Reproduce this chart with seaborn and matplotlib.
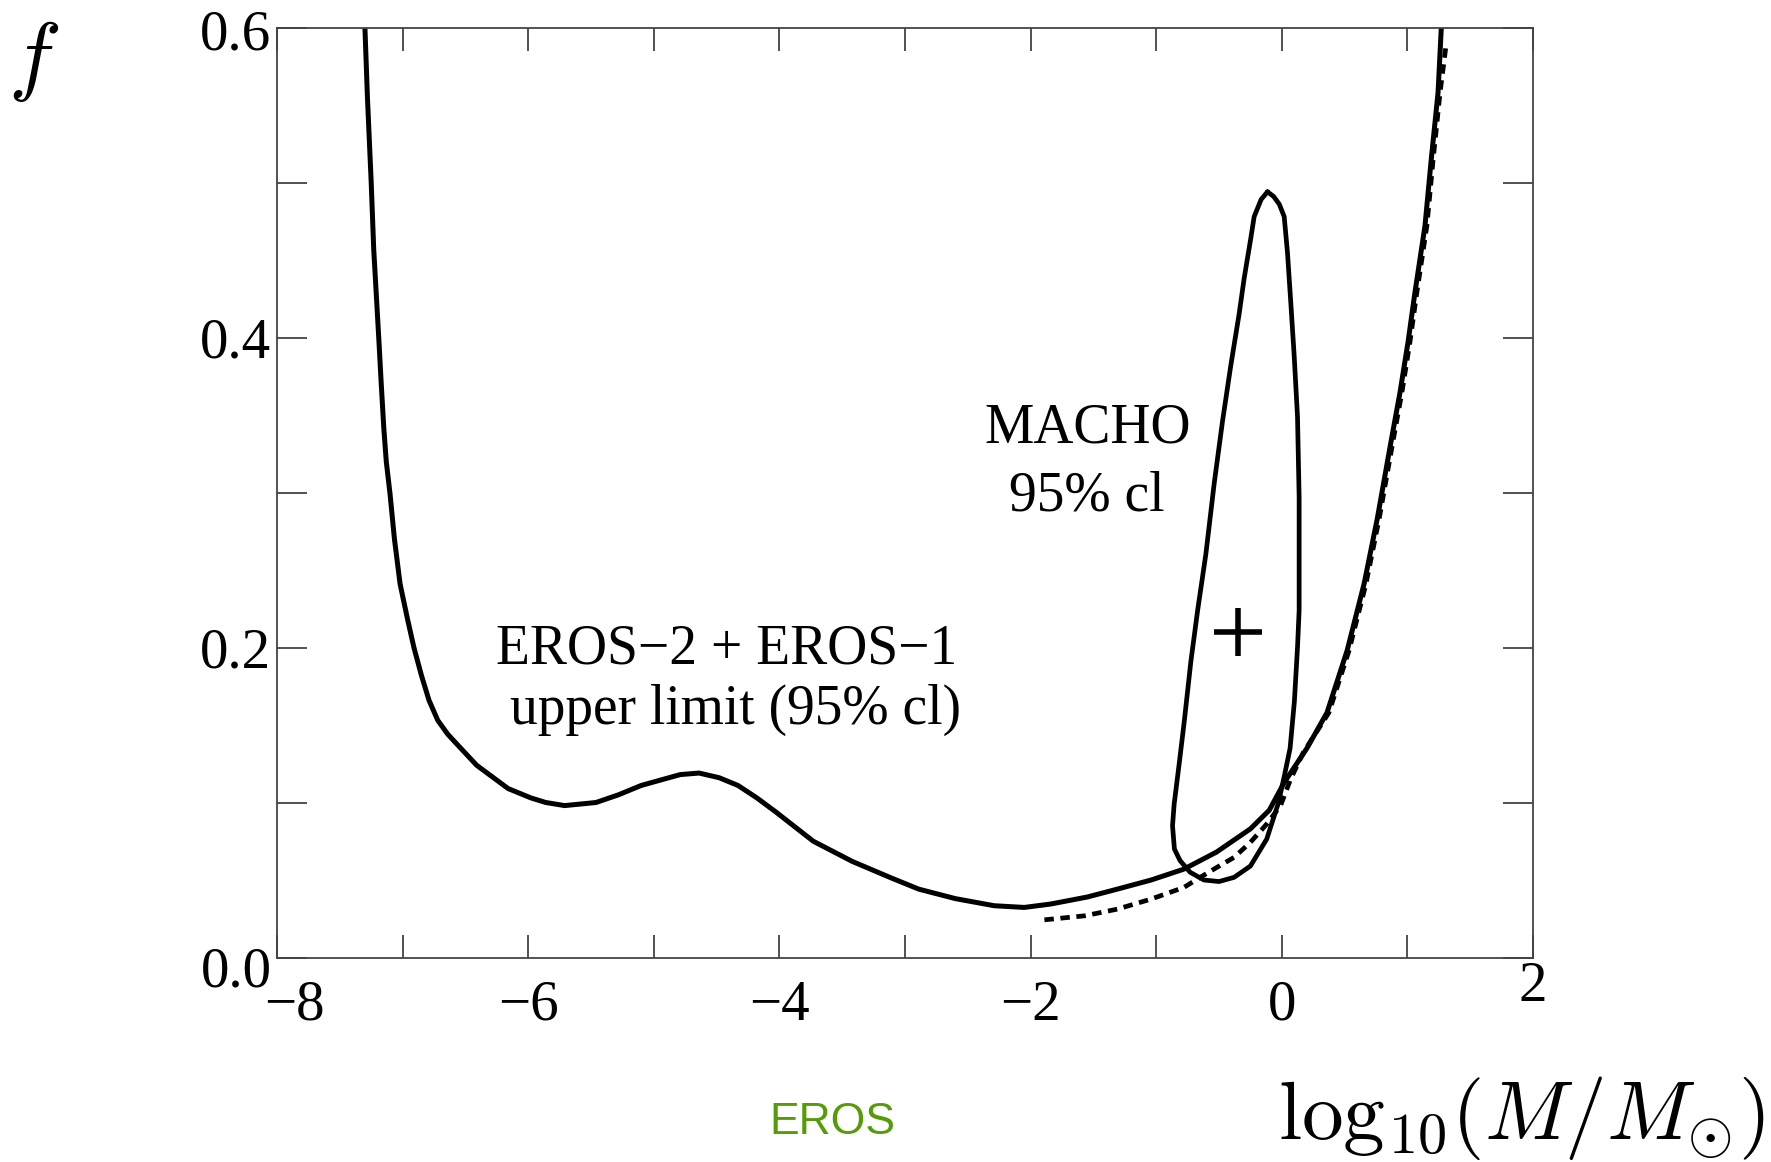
import matplotlib
matplotlib.use("Agg")
import matplotlib.pyplot as plt
import seaborn as sns
import numpy as np
from matplotlib.transforms import ScaledTranslation

# ---------------- data ----------------
# EROS-2 + EROS-1 upper limit (solid)
eros_x = [-7.30, -7.28, -7.25, -7.23, -7.19, -7.17, -7.15, -7.13, -7.10, -7.065, -7.02,
          -6.96, -6.91, -6.85, -6.79, -6.72, -6.64, -6.56, -6.41, -6.16, -5.98, -5.86,
          -5.71, -5.46, -5.28, -5.10, -4.79, -4.64, -4.48, -4.33, -4.18, -4.03, -3.73,
          -3.42, -3.10, -2.89, -2.60, -2.29, -2.05, -1.84, -1.55, -1.31, -1.04, -0.78,
          -0.52, -0.25, -0.10, 0.02, 0.20, 0.36, 0.52, 0.655, 0.76, 0.87, 0.94, 1.005,
          1.06, 1.14, 1.19, 1.244, 1.27]
eros_y = [0.600, 0.555, 0.500, 0.457, 0.400, 0.370, 0.342, 0.320, 0.299, 0.270, 0.241,
          0.218, 0.200, 0.182, 0.166, 0.153, 0.144, 0.137, 0.124, 0.109, 0.103, 0.100,
          0.098, 0.100, 0.105, 0.111, 0.118, 0.119, 0.116, 0.111, 0.103, 0.094, 0.075,
          0.062, 0.051, 0.0441, 0.038, 0.0334, 0.0323, 0.0345, 0.039, 0.0441, 0.050, 0.057,
          0.068, 0.083, 0.095, 0.113, 0.135, 0.158, 0.198, 0.241, 0.283, 0.333, 0.364,
          0.397, 0.429, 0.472, 0.515, 0.558, 0.600]

# dotted limit
dot_x = [-1.89, -1.57, -1.31, -1.04, -0.78, -0.65, -0.52, -0.38, -0.25, -0.12,
         -0.01, 0.07, 0.17, 0.375, 0.535, 0.67, 0.775, 0.885, 0.955, 1.02,
         1.075, 1.155, 1.205, 1.26, 1.31]
dot_y = [0.0243, 0.0269, 0.0312, 0.0377, 0.0452, 0.0517, 0.058, 0.0646, 0.0743, 0.0861,
         0.098, 0.115, 0.132, 0.158, 0.198, 0.241, 0.283, 0.333, 0.364, 0.397,
         0.429, 0.472, 0.515, 0.558, 0.590]

# MACHO 95% cl contour (closed)
macho_x = [-0.114, -0.165, -0.22, -0.247, -0.30, -0.34, -0.406, -0.472, -0.538, -0.605,
           -0.67, -0.724, -0.777, -0.817, -0.857, -0.87, -0.855, -0.81, -0.73, -0.62,
           -0.50, -0.38, -0.25, -0.12, -0.03, 0.02, 0.066, 0.10, 0.125, 0.138,
           0.138, 0.125, 0.098, 0.072, 0.045, 0.019, -0.02, -0.065, -0.114]
macho_y = [0.494, 0.489, 0.478, 0.464, 0.438, 0.415, 0.382, 0.346, 0.306, 0.260,
           0.224, 0.191, 0.152, 0.125, 0.099, 0.085, 0.070, 0.0625, 0.055, 0.050,
           0.049, 0.0517, 0.059, 0.0764, 0.099, 0.117, 0.135, 0.165, 0.200, 0.224,
           0.297, 0.349, 0.389, 0.422, 0.455, 0.478, 0.486, 0.491, 0.494]

best_x = [-0.347]
best_y = [0.210]

x_major = [-8, -6, -4, -2, 0, 2]
x_minor = [-7, -5, -3, -1, 1]
x_labels = ["\u22128", "\u22126", "\u22124", "\u22122", "0", "2"]
y_major = [0.0, 0.2, 0.4, 0.6]
y_minor = [0.1, 0.3, 0.5]
y_labels = ["0.0", "0.2", "0.4", "0.6"]

# ---------------- plot ----------------
sns.set_theme(style="ticks")
plt.rcParams["font.family"] = ["Liberation Serif", "DejaVu Serif"]
plt.rcParams["mathtext.fontset"] = "cm"
plt.rcParams["text.color"] = "black"
plt.rcParams["xtick.color"] = "black"
plt.rcParams["ytick.color"] = "black"
plt.rcParams["xtick.labelcolor"] = "black"
plt.rcParams["ytick.labelcolor"] = "black"

fig = plt.figure(figsize=(17.71, 11.62), dpi=100)
ax = fig.add_axes([277 / 1771, 204.5 / 1162, 1256 / 1771, 930 / 1162])

sns.lineplot(x=eros_x, y=eros_y, sort=False, estimator=None, color="black",
             lw=3.6, ax=ax)
sns.lineplot(x=dot_x, y=dot_y, sort=False, estimator=None, color="black",
             lw=3.4, linestyle=(0, (2.0, 1.4)), ax=ax)
sns.lineplot(x=macho_x, y=macho_y, sort=False, estimator=None, color="black",
             lw=3.4, ax=ax)
sns.scatterplot(x=best_x, y=best_y, marker="+", s=1200, color="black",
                linewidth=4.0, ax=ax, zorder=5)

ax.set_xlim(-8, 2)
ax.set_ylim(0, 0.6)
ax.set_xticks(x_major)
ax.set_xticks(x_minor, minor=True)
ax.set_xticklabels(x_labels)
ax.set_yticks(y_major)
ax.set_yticks(y_minor, minor=True)
ax.set_yticklabels(y_labels)
ax.set_xlabel("")
ax.set_ylabel("")

for s in ax.spines.values():
    s.set_color("#444444")
    s.set_linewidth(1.3)

ax.tick_params(axis="x", which="both", direction="in", top=True, bottom=True,
               length=16.5, width=1.1, color="#222222", labelsize=41, pad=16,
               labelcolor="black")
ax.tick_params(axis="y", which="both", direction="in", left=True, right=True,
               length=21.5, width=1.1, color="#222222", labelsize=41, pad=4,
               labelcolor="black")

# small label offsets as in the reference (pixels at 100 dpi)
x_off = {"\u22128": (17, 0), "2": (0, 19)}
y_off = {"0.0": (0, -9), "0.6": (0, -2)}
for lab in ax.get_xticklabels():
    dx, dy = x_off.get(lab.get_text(), (0, 0))
    lab.set_transform(lab.get_transform() + ScaledTranslation(dx / 100, dy / 100, fig.dpi_scale_trans))
for lab in ax.get_yticklabels():
    dx, dy = y_off.get(lab.get_text(), (0, 0))
    lab.set_transform(lab.get_transform() + ScaledTranslation(dx / 100, dy / 100, fig.dpi_scale_trans))

ax.text(-1.543, 0.3414, "MACHO", fontsize=40, ha="center", va="center")
ax.text(-1.55, 0.2975, "95% cl", fontsize=40, ha="center", va="center")
ax.text(-4.42, 0.199, "EROS\u22122 + EROS\u22121", fontsize=40, ha="center", va="center")
ax.text(-4.35, 0.160, "upper limit (95% cl)", fontsize=40, ha="center", va="center")

fig.text(34 / 1771, 1 - 62 / 1162, r"$f$", fontsize=64, ha="center", va="center")
fig.text(1764 / 1771, 1 - 1118 / 1162, r"$\mathrm{log}_{10}(M/M_{\odot})$", fontsize=60,
         ha="right", va="center")
fig.text(832 / 1771, 1 - 1122 / 1162, "EROS", fontsize=32, ha="center", va="center",
         color="#569c08", family=["Liberation Sans", "DejaVu Sans"])

fig.savefig("out.png", dpi=100)
